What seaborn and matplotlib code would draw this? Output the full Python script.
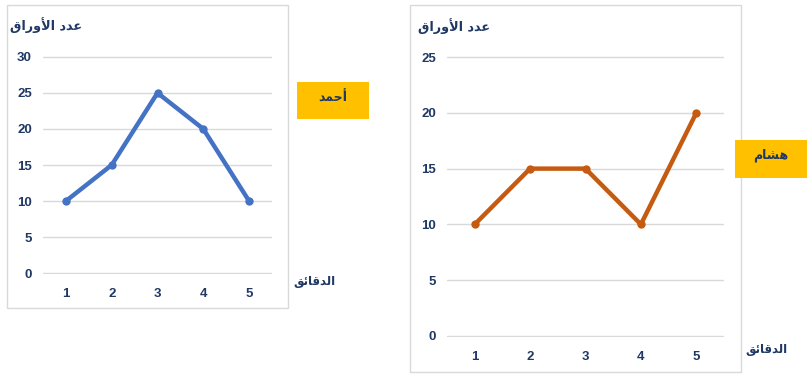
import matplotlib
matplotlib.use("Agg")
import matplotlib.pyplot as plt
import seaborn as sns
import pandas as pd
from matplotlib.patches import Rectangle

minutes = [1, 2, 3, 4, 5]
ahmad = [10, 15, 25, 20, 10]
hisham = [10, 15, 15, 10, 20]

# Arabic labels, pre-shaped (presentation forms, visual order)
lbl_papers = "\uFED5\uFE8D\uFEAD\uFEED\uFEF7\uFE8D \uFEA9\uFEAA\uFECB"   # عدد الأوراق
lbl_minutes = "\uFED6\uFE8B\uFE8E\uFED7\uFEAA\uFEDF\uFE8D"               # الدقائق
lbl_ahmad = "\uFEAA\uFEE4\uFEA3\uFE83"                                     # أحمد
lbl_hisham = "\uFEE1\uFE8E\uFEB8\uFEEB"                                    # هشام

sns.set_theme(style="white")
plt.rcParams['font.family'] = ['Liberation Sans', 'DejaVu Sans']

W, H = 811, 379
fig = plt.figure(figsize=(W / 100, H / 100), dpi=100)
fig.patch.set_facecolor("white")

txt_col = "#1F3864"
grid_col = "#D9D9D9"


def fx(px):
    return px / W


def fy(py):
    return 1 - py / H


def frame(x0, y0, x1, y1):
    fig.patches.append(Rectangle((fx(x0), fy(y1)), fx(x1) - fx(x0), fy(y0) - fy(y1),
                                 transform=fig.transFigure, fill=False,
                                 edgecolor=grid_col, linewidth=1.0, zorder=0))


def panel(rect, values, color, ymax, ystep):
    ax = fig.add_axes(rect)
    df = pd.DataFrame({"m": minutes, "v": values})
    sns.lineplot(data=df, x="m", y="v", ax=ax, color=color, linewidth=3.2,
                 marker="o", markersize=6, markeredgewidth=0)
    ax.set_xlim(0.5, 5.5)
    eps = ymax * 0.004
    ax.set_ylim(-eps, ymax + eps)
    ax.set_xticks(minutes)
    ax.set_yticks(range(0, ymax + 1, ystep))
    ax.set_xlabel("")
    ax.set_ylabel("")
    for s in ax.spines.values():
        s.set_visible(False)
    ax.grid(axis="y", color=grid_col, linewidth=1.0)
    ax.set_axisbelow(True)
    ax.tick_params(axis="both", length=0, labelsize=9.5, labelcolor=txt_col)
    ax.tick_params(axis="x", pad=10)
    ax.tick_params(axis="y", pad=8)
    for t in ax.get_xticklabels() + ax.get_yticklabels():
        t.set_fontweight("bold")
    ax.patch.set_alpha(0)
    return ax


ar_font = ['DejaVu Sans']

# left panel
frame(7, 5, 288, 308)
panel([fx(43), fy(274), fx(272) - fx(43), fy(56) - fy(274)], ahmad, "#4472C4", 30, 5)
fig.text(fx(10), fy(25), lbl_papers, ha="left", va="center", fontsize=9.2,
         fontweight="bold", color=txt_col, family=ar_font)
fig.text(fx(293), fy(281), lbl_minutes, ha="left", va="center", fontsize=8.5,
         fontweight="bold", color=txt_col, family=ar_font)
fig.patches.append(Rectangle((fx(297), fy(119)), fx(369) - fx(297), fy(82) - fy(119),
                             transform=fig.transFigure, facecolor="#FFC000",
                             edgecolor="none", zorder=1))
fig.text(fx(333), fy(98), lbl_ahmad, ha="center", va="center", fontsize=9,
         fontweight="bold", color=txt_col, family=ar_font, zorder=2)

# right panel
frame(410, 5, 741, 372)
panel([fx(447), fy(337), fx(724) - fx(447), fy(56) - fy(337)], hisham, "#C55A11", 25, 5)
fig.text(fx(418), fy(26), lbl_papers, ha="left", va="center", fontsize=9.2,
         fontweight="bold", color=txt_col, family=ar_font)
fig.text(fx(745), fy(350), lbl_minutes, ha="left", va="center", fontsize=8.5,
         fontweight="bold", color=txt_col, family=ar_font)
fig.patches.append(Rectangle((fx(735), fy(178)), fx(807) - fx(735), fy(140) - fy(178),
                             transform=fig.transFigure, facecolor="#FFC000",
                             edgecolor="none", zorder=1))
fig.text(fx(771), fy(155), lbl_hisham, ha="center", va="center", fontsize=9,
         fontweight="bold", color=txt_col, family=ar_font, zorder=2)

fig.savefig("out.png", dpi=100, facecolor="white")
